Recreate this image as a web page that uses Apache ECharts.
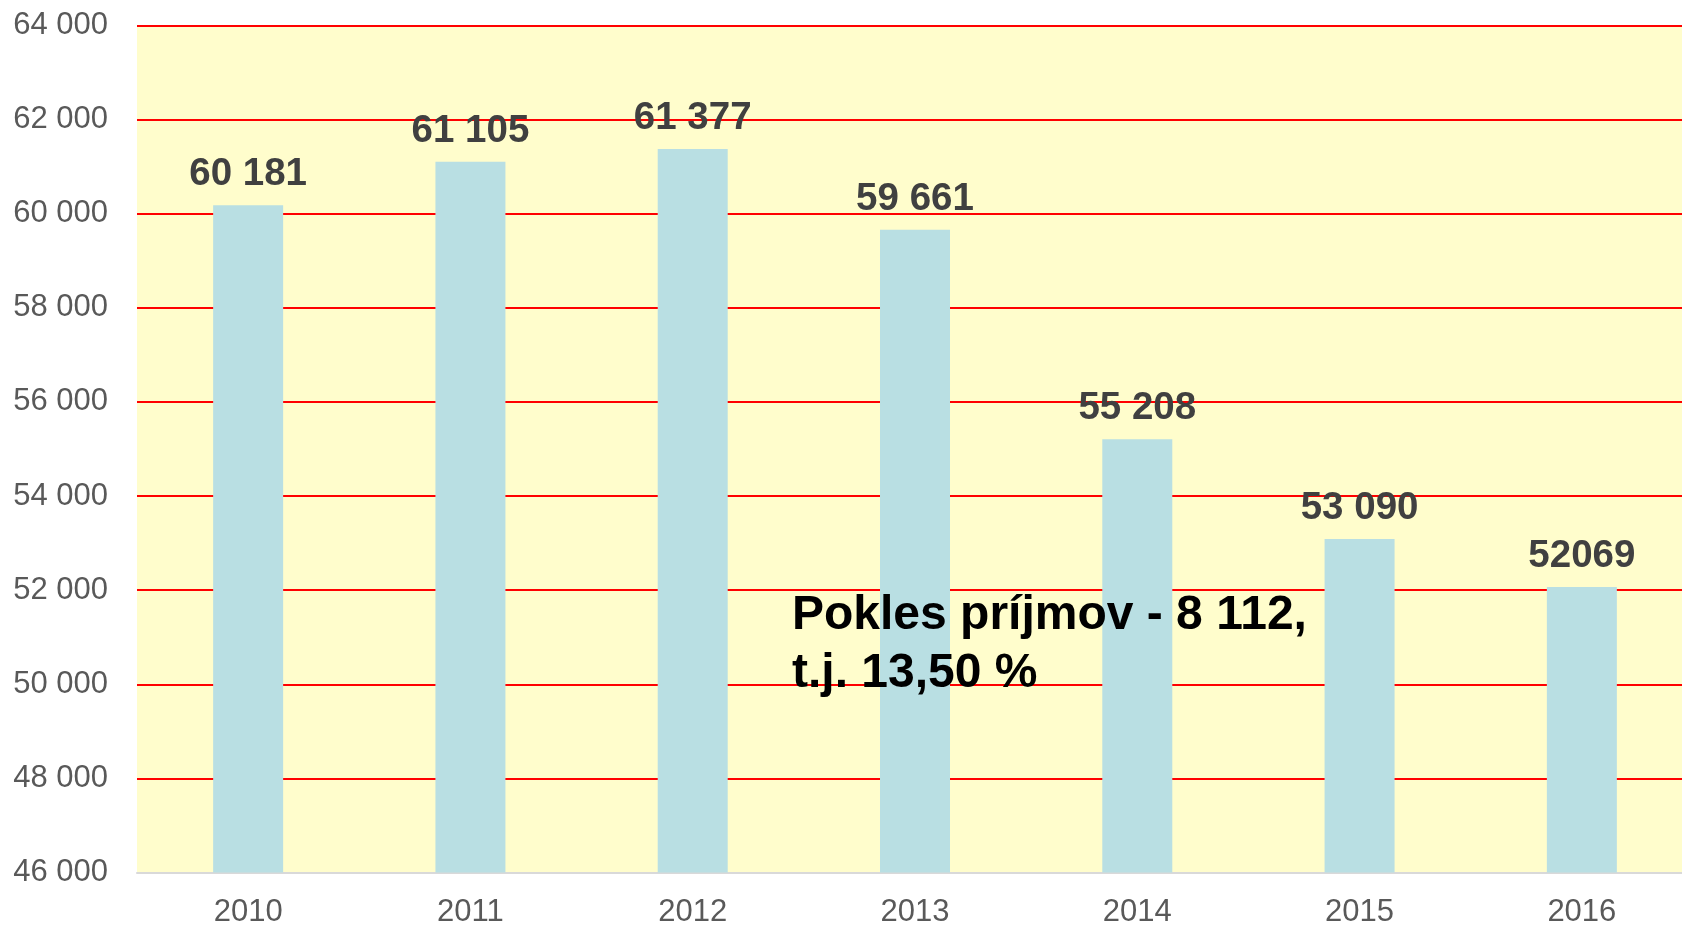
<!DOCTYPE html>
<html>
<head>
<meta charset="utf-8">
<title>Príjmy 2010–2016</title>
<script src="https://cdn.jsdelivr.net/npm/echarts@6/dist/echarts.min.js"></script>
<style>
  html, body { margin: 0; padding: 0; background: #ffffff; }
  #chart { width: 1682px; height: 925px; }
</style>
</head>
<body>
<div id="chart"></div>
<script>
// Years on the category axis
const years = ['2010', '2011', '2012', '2013', '2014', '2015', '2016'];
// Yearly income values
const incomes = [60181, 61105, 61377, 59661, 55208, 53090, 52069];
// Value labels as printed above each bar
const incomeLabels = ['60 181', '61 105', '61 377', '59 661', '55 208', '53 090', '52069'];
// Value axis range
const yMin = 46000;
const yMax = 64000;
const yStep = 2000;
// Annotation text
const noteLines = ['Pokles príjmov - 8 112,', 't.j. 13,50 %'];

const fmtThousands = v => String(v).replace(/\B(?=(\d{3})+(?!\d))/g, ' ');

const chart = echarts.init(document.getElementById('chart'), null, { renderer: 'canvas' });

chart.setOption({
  animation: false,
  backgroundColor: '#ffffff',
  grid: {
    left: 137,
    top: 25.5,
    width: 1556,
    bottom: 52.5,
    outerBoundsMode: 'none',
    containLabel: false,
    show: true,
    backgroundColor: '#fffdcc',
    borderWidth: 0
  },
  xAxis: {
    type: 'category',
    data: years,
    axisLine: { show: true, lineStyle: { color: '#d9d9d9', width: 2 } },
    axisTick: { show: false },
    axisLabel: {
      color: '#595959',
      fontFamily: 'Liberation Sans, Arial, sans-serif',
      fontSize: 31,
      margin: 24
    }
  },
  yAxis: {
    type: 'value',
    min: yMin,
    max: yMax,
    interval: yStep,
    axisLine: { show: false },
    axisTick: { show: false },
    splitLine: { show: true, lineStyle: { color: '#ff0000', width: 2 } },
    axisLabel: {
      color: '#595959',
      fontFamily: 'Liberation Sans, Arial, sans-serif',
      fontSize: 31,
      margin: 29,
      formatter: v => fmtThousands(v)
    }
  },
  series: [{
    type: 'bar',
    data: incomes,
    barWidth: 70,
    itemStyle: { color: '#b9dfe3' },
    z: 3,
    label: {
      show: true,
      position: 'top',
      distance: 11,
      color: '#404040',
      fontFamily: 'Liberation Sans, Arial, sans-serif',
      fontWeight: 'bold',
      fontSize: 38.5,
      formatter: p => incomeLabels[p.dataIndex]
    }
  }],
  graphic: [{
    type: 'text',
    left: 792,
    top: 586.5,
    z: 10,
    style: {
      text: noteLines.join('\n'),
      fill: '#000000',
      font: 'bold 48px "Liberation Sans", Arial, sans-serif',
      lineHeight: 58
    }
  }]
});
</script>
</body>
</html>
